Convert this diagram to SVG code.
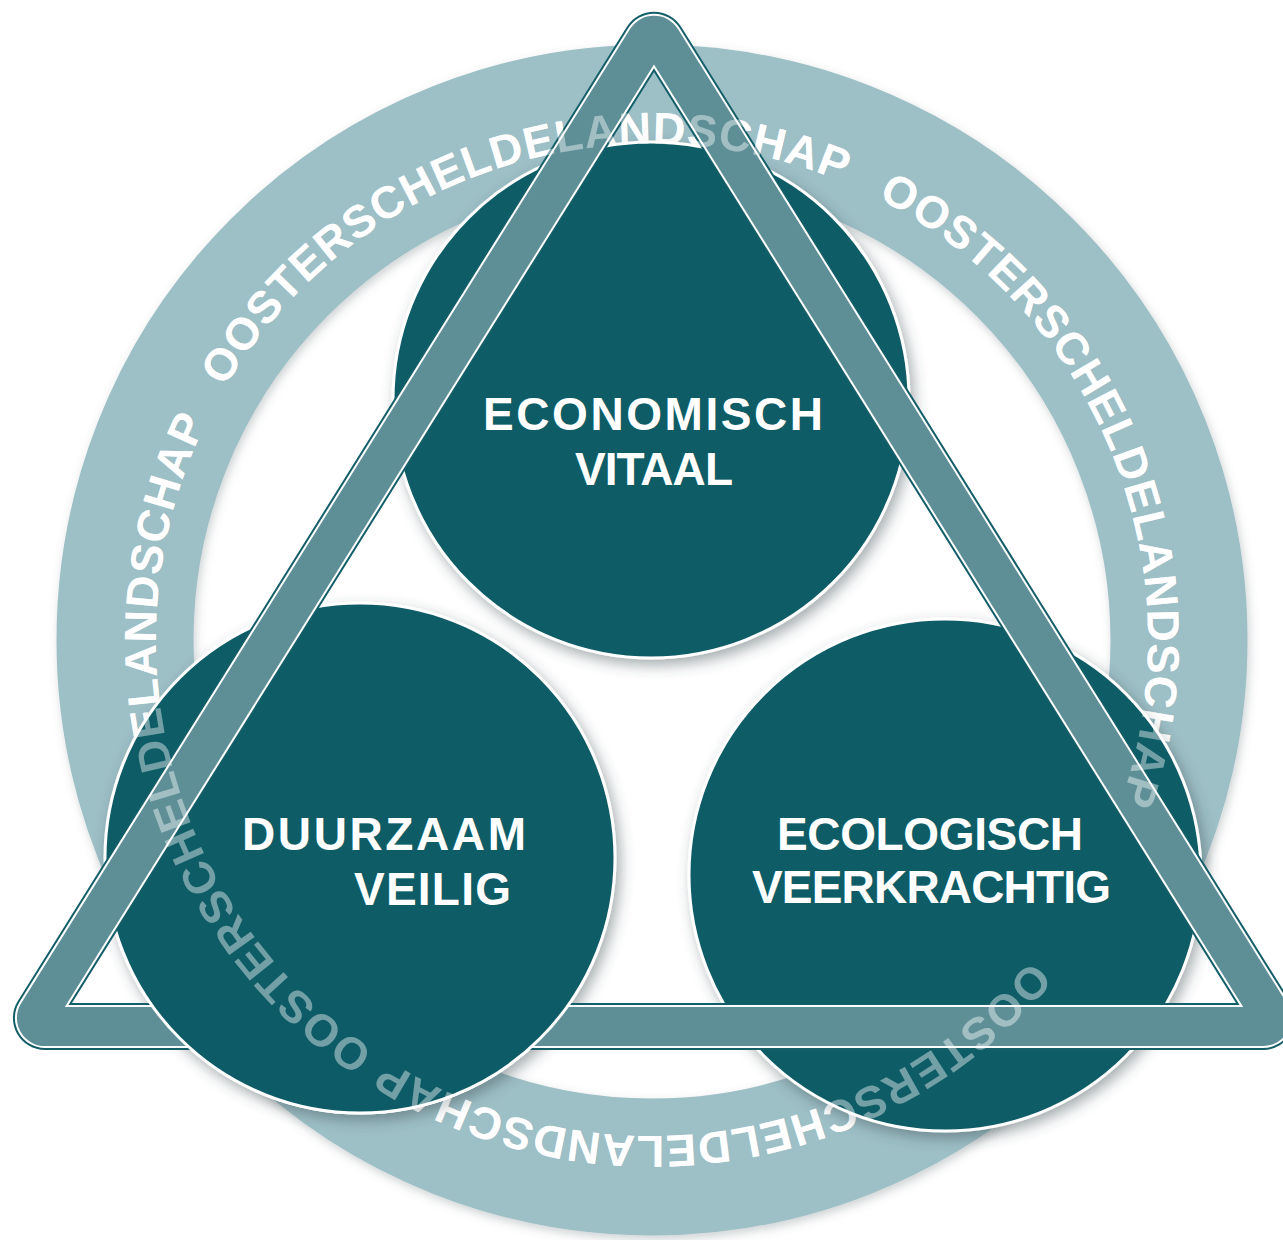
<svg xmlns="http://www.w3.org/2000/svg" xmlns:xlink="http://www.w3.org/1999/xlink" width="1283" height="1240" viewBox="0 0 1283 1240">
<defs>
<style>
.ringtxt { font-family: "Liberation Sans", Arial, sans-serif; font-weight: bold; font-size: 45px; }
.label { font-family: "Liberation Sans", Arial, sans-serif; font-weight: bold; font-size: 46px; fill: #ffffff; }
.disc { fill: #0d5b66; stroke: #ffffff; stroke-width: 3; }
.tri-dark { fill: #145e68; fill-rule: evenodd; }
.tri-white { fill: #ffffff; fill-rule: evenodd; }
.tri-band { fill: #5e8f97; fill-rule: evenodd; }
</style>
<filter id="shadow" x="-20%" y="-20%" width="140%" height="140%">
<feDropShadow dx="4" dy="6" stdDeviation="7" flood-color="#3a4a4d" flood-opacity="0.45"/>
</filter>
<filter id="ringshadow" x="-10%" y="-10%" width="120%" height="120%">
<feDropShadow dx="2" dy="4" stdDeviation="5" flood-color="#5a6a6d" flood-opacity="0.3"/>
</filter>
<path id="ringPath" d="M652,144 A496,496 0 1 1 652,1136 A496,496 0 1 1 652,144 A496,496 0 1 1 652,1136 A496,496 0 1 1 652,144"/>
<clipPath id="bottomClip"><rect x="0" y="999" width="700" height="241"/></clipPath>
<g id="ringText" class="ringtxt">
<text><textPath xlink:href="#ringPath" href="#ringPath" startOffset="2602" textLength="710" lengthAdjust="spacing">OOSTERSCHELDELANDSCHAP</textPath></text>
<text><textPath xlink:href="#ringPath" href="#ringPath" startOffset="234" textLength="710" lengthAdjust="spacing">OOSTERSCHELDELANDSCHAP</textPath></text>
<text><textPath xlink:href="#ringPath" href="#ringPath" startOffset="1127" textLength="710" lengthAdjust="spacing">OOSTERSCHELDELANDSCHAP</textPath></text>
<text><textPath xlink:href="#ringPath" href="#ringPath" startOffset="1853" textLength="710" lengthAdjust="spacing">OOSTERSCHELDELANDSCHAP</textPath></text>
</g>
</defs>
<rect width="1283" height="1240" fill="#ffffff"/>

<g id="ring">
<circle cx="652" cy="640" r="527" fill="none" stroke="#9dbfc6" stroke-width="137" filter="url(#ringshadow)"/>
<use xlink:href="#ringText" href="#ringText" fill="#ffffff"/>
</g>

<g id="node-economisch">
<circle class="disc" cx="651" cy="400" r="258" filter="url(#shadow)"/>
</g>
<g id="node-duurzaam">
<circle class="disc" cx="360" cy="858" r="255" filter="url(#shadow)"/>
</g>
<g id="node-ecologisch">
<circle class="disc" cx="945" cy="875" r="256" filter="url(#shadow)"/>
</g>

<g id="connectors">
<path class="tri-dark" d="M626.86,26.75 A32,32 0 0 1 681.14,26.75 L1290.21,1001.03 A32,32 0 0 1 1263.07,1050 L44.93,1050 A32,32 0 0 1 17.79,1001.03 Z M654,72 L72,1003 L1236,1003 Z"/>
<path class="tri-white" d="M628.56,27.81 A30,30 0 0 1 679.44,27.81 L1288.51,1002.09 A30,30 0 0 1 1263.07,1048 L44.93,1048 A30,30 0 0 1 19.49,1002.09 Z M654,68.23 L68.39,1005 L1239.61,1005 Z"/>
<path class="tri-band" d="M630.25,28.87 A28,28 0 0 1 677.75,28.87 L1286.81,1003.14 A28,28 0 0 1 1263.06,1046 L44.94,1046 A28,28 0 0 1 21.19,1003.14 Z M654,64.45 L64.78,1007 L1243.22,1007 Z"/>
</g>

<g id="node-duurzaam-front" clip-path="url(#bottomClip)">
<circle class="disc" cx="360" cy="858" r="255"/>
</g>

<use id="ringTextOverlay" xlink:href="#ringText" href="#ringText" fill="#ffffff" opacity="0.42"/>

<g id="labels">
<text class="label" x="483" y="430" textLength="340" lengthAdjust="spacing">ECONOMISCH</text>
<text class="label" x="575" y="485" textLength="158" lengthAdjust="spacing">VITAAL</text>
<text class="label" x="242" y="850" textLength="284" lengthAdjust="spacing">DUURZAAM</text>
<text class="label" x="354" y="905" textLength="157" lengthAdjust="spacing">VEILIG</text>
<text class="label" x="777" y="850" textLength="306" lengthAdjust="spacing">ECOLOGISCH</text>
<text class="label" x="752" y="903" textLength="359" lengthAdjust="spacing">VEERKRACHTIG</text>
</g>
</svg>
